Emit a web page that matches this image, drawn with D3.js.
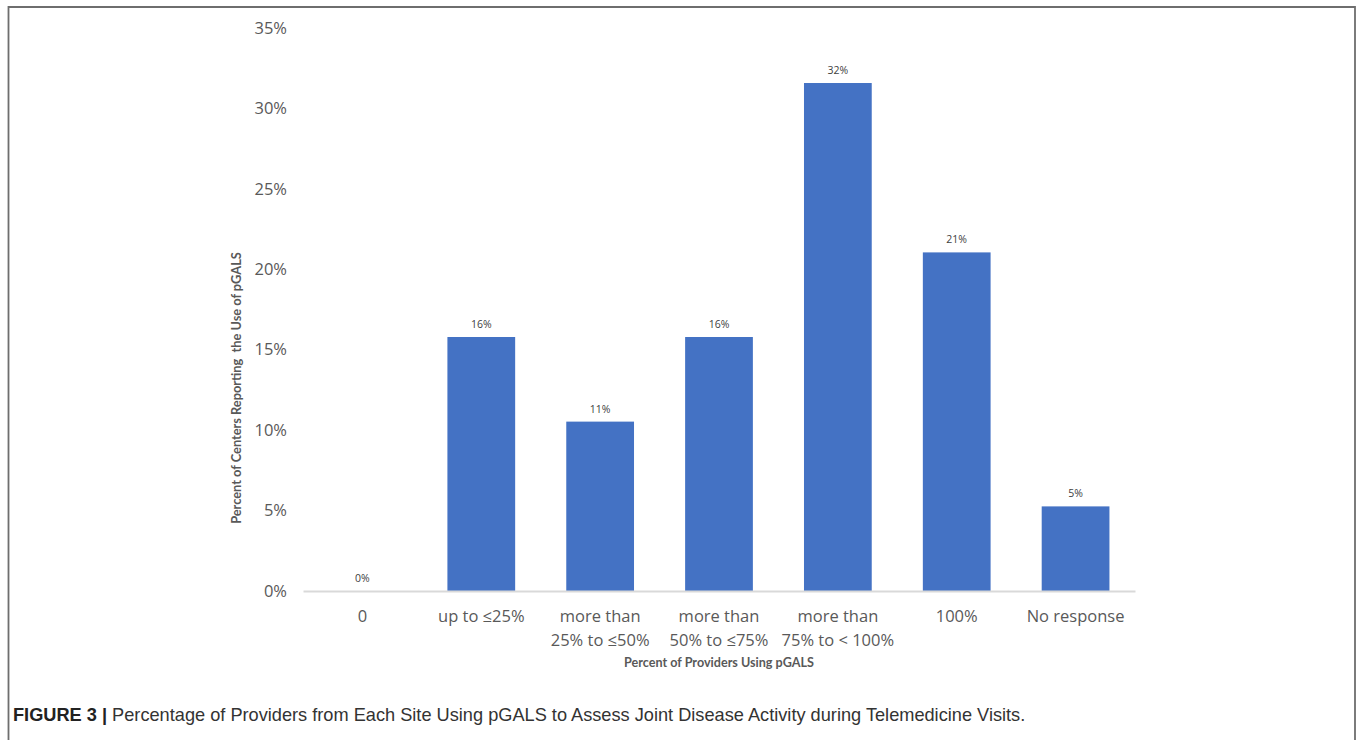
<!DOCTYPE html>
<html>
<head>
<meta charset="utf-8">
<script src="https://cdn.jsdelivr.net/npm/d3@7"></script>
<style>
  html, body { margin: 0; padding: 0; background: #fff; }
  svg { display: block; }
</style>
</head>
<body>
<svg id="chart" width="1357" height="740"></svg>
<script>
// ---- data ----
const categories = ["0", "up to ≤25%", "more than 25% to ≤50%", "more than 50% to ≤75%", "more than 75% to < 100%", "100%", "No response"];
const categoryLines = [["0"], ["up to ≤25%"], ["more than", "25% to ≤50%"], ["more than", "50% to ≤75%"], ["more than", "75% to < 100%"], ["100%"], ["No response"]];
const values = [0, 0.1579, 0.1053, 0.1579, 0.3158, 0.2105, 0.0526];
const yTicks = [0, 0.05, 0.10, 0.15, 0.20, 0.25, 0.30, 0.35];
const yTitle = "Percent of Centers Reporting  the Use of pGALS";
const xTitle = "Percent of Providers Using pGALS";
const captionBold = "FIGURE 3 |";
const captionText = " Percentage of Providers from Each Site Using pGALS to Assess Joint Disease Activity during Telemedicine Visits.";

const svg = d3.select("#chart");

// frame
svg.append("path")
  .attr("d", "M8.5,745 L8.5,7 L1355,7 L1355,745")
  .attr("fill", "none").attr("stroke", "#6e6e6e").attr("stroke-width", 1.8);

const x = d3.scaleBand().domain(categories).range([303, 1135]).paddingInner(0.43).paddingOuter(0.215);
const y = d3.scaleLinear().domain([0, 0.35]).range([591, 28]);

// y axis
const yAxis = svg.append("g").attr("transform", "translate(287,0)")
  .call(d3.axisLeft(y).tickValues(yTicks).tickFormat(d3.format(".0%")).tickSize(0).tickPadding(0));
yAxis.select(".domain").remove();
yAxis.selectAll("text")
  .attr("font-family", "'Open Sans', sans-serif").attr("font-size", 16.5).attr("fill", "#595959");

// bars
svg.append("g").selectAll("rect").data(values).join("rect")
  .attr("x", (d, i) => x(categories[i]))
  .attr("width", x.bandwidth())
  .attr("y", d => y(d))
  .attr("height", d => y(0) - y(d))
  .attr("fill", "#4472C4");

// x axis
const xAxis = svg.append("g").attr("transform", "translate(0,591)")
  .call(d3.axisBottom(x).tickSize(0).tickSizeOuter(0).tickFormat(""));
xAxis.select(".domain").attr("stroke", "#d9d9d9").attr("stroke-width", 2);
xAxis.selectAll(".tick").each(function(d, i) {
  const t = d3.select(this).append("text")
    .attr("font-family", "'Open Sans', sans-serif").attr("font-size", 16.5)
    .attr("fill", "#595959").attr("text-anchor", "middle");
  categoryLines[i].forEach((ln, j) => {
    t.append("tspan").attr("x", 0).attr("y", 31 + j * 23.5).text(ln);
  });
});

// value labels
svg.append("g").selectAll("text").data(values).join("text")
  .attr("x", (d, i) => x(categories[i]) + x.bandwidth() / 2)
  .attr("y", d => y(d) - 9)
  .attr("text-anchor", "middle")
  .attr("font-family", "'Open Sans', sans-serif").attr("font-size", 10.5)
  .attr("fill", "#404040")
  .text(d => d3.format(".0%")(d));

// axis titles
svg.append("text")
  .attr("transform", `translate(240.5,${(253 + 523) / 2}) rotate(-90)`)
  .attr("text-anchor", "middle")
  .attr("font-family", "Lato, sans-serif").attr("font-weight", "bold").attr("font-size", 12.8)
  .attr("fill", "#595959").style("white-space", "pre")
  .text(yTitle);

svg.append("text")
  .attr("x", (303 + 1135) / 2).attr("y", 667)
  .attr("text-anchor", "middle")
  .attr("font-family", "Lato, sans-serif").attr("font-weight", "bold").attr("font-size", 12.6)
  .attr("fill", "#595959")
  .text(xTitle);

// caption
const cap = svg.append("text").attr("x", 13).attr("y", 721)
  .attr("font-family", "'Liberation Sans', Arial, sans-serif").attr("font-size", 18.2)
  .attr("fill", "#333");
cap.append("tspan").attr("font-weight", "bold").attr("fill", "#222").text(captionBold);
cap.append("tspan").style("white-space", "pre").text(captionText);
</script>
</body>
</html>
